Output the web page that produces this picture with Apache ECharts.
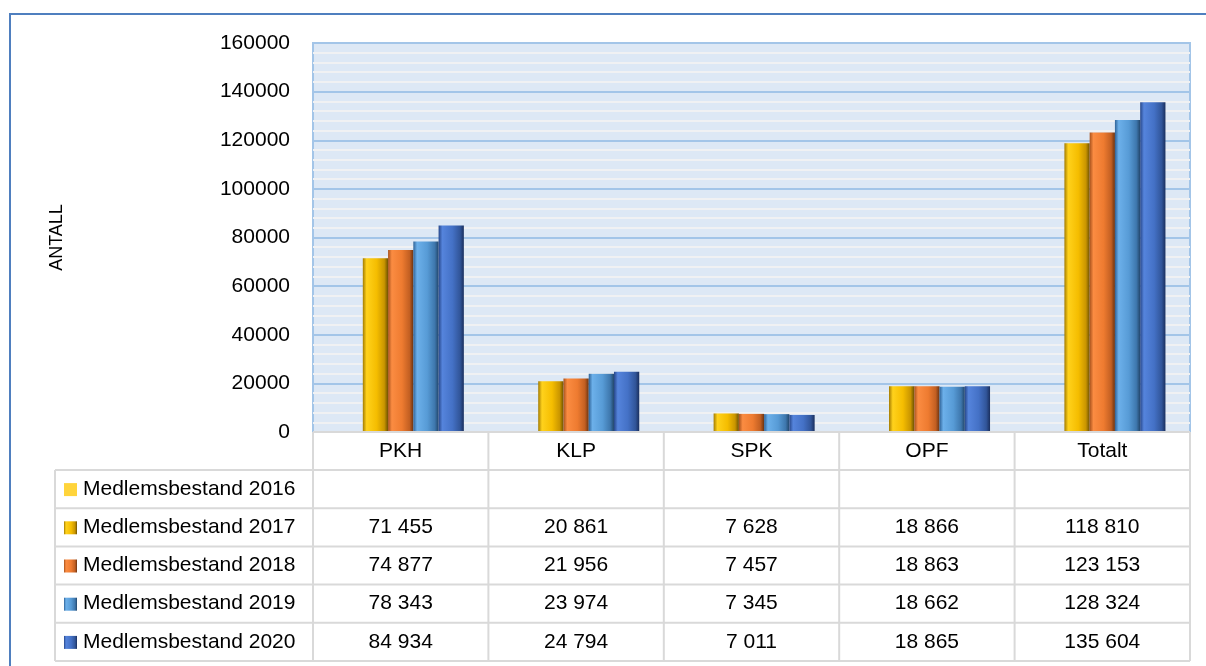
<!DOCTYPE html>
<html>
<head>
<meta charset="utf-8">
<script src="https://cdn.jsdelivr.net/npm/echarts@6/dist/echarts.min.js"></script>
<style>
    html, body { margin: 0; padding: 0; background: #fff; }
    #chart { width: 1206px; height: 666px; }
</style>
</head>
<body>
<div id="chart"></div>
<script>
    // data
    var categories = ['PKH', 'KLP', 'SPK', 'OPF', 'Totalt'];
    var rowNames = ['Medlemsbestand 2016', 'Medlemsbestand 2017', 'Medlemsbestand 2018', 'Medlemsbestand 2019', 'Medlemsbestand 2020'];
    var data2016 = [null, null, null, null, null];
    var data2017 = [71455, 20861, 7628, 18866, 118810];
    var data2018 = [74877, 21956, 7457, 18863, 123153];
    var data2019 = [78343, 23974, 7345, 18662, 128324];
    var data2020 = [84934, 24794, 7011, 18865, 135604];
    var rows = [data2016, data2017, data2018, data2019, data2020];

    // layout of plot + data table
    var L = 313, T = 43, R = 1190, B = 432;
    var tableLeft = 55, headerBottom = 470, rowH = 38.2;
    var FONT = '"Liberation Sans", Arial, sans-serif';

    // bevel look: dark edges, bright left part
    function bevel(c) {
        return new echarts.graphic.LinearGradient(0, 0, 1, 0, [
            {offset: 0, color: c[0]},
            {offset: 0.15, color: c[1]},
            {offset: 0.55, color: c[2]},
            {offset: 0.85, color: c[3]},
            {offset: 1, color: c[4]}
        ]);
    }
    var palette = [
        ['#ffd43b', '#ffd43b', '#ffd43b', '#ffd43b', '#ffd43b'],
        ['#a37b00', '#ffd21c', '#f5bd00', '#c99500', '#6e5200'],
        ['#a8521c', '#fb8c42', '#ee7b30', '#c25f22', '#6b3310'],
        ['#2f6398', '#6cb0ea', '#579bd6', '#3e77ad', '#22466b'],
        ['#27478a', '#5584dc', '#4471c6', '#315599', '#1a2f5e']
    ];

    function fmt(v) {
        if (v == null) return '';
        return String(v).replace(/\B(?=(\d{3})+(?!\d))/g, ' ');
    }

    // 2016 is empty but still keeps its slot in each group
    var series = [];
    for (var s = 0; s < rows.length; s++) {
        series.push({
            name: rowNames[s],
            type: 'bar',
            data: rows[s],
            barGap: '0%',
            barCategoryGap: '28%',
            itemStyle: {color: bevel(palette[s])}
        });
    }

    // data table under the chart
    var graphic = [];
    var lineStyle = {stroke: '#d9d9d9', lineWidth: 2};
    function hline(x1, x2, y) {
        graphic.push({type: 'line', shape: {x1: x1, y1: y, x2: x2, y2: y}, style: lineStyle, z: 10});
    }
    function vline(x, y1, y2) {
        graphic.push({type: 'line', shape: {x1: x, y1: y1, x2: x, y2: y2}, style: lineStyle, z: 10});
    }
    var colW = (R - L) / categories.length;
    var tableBottom = headerBottom + rowH * rows.length;
    hline(L, R, B);
    for (var r = 0; r <= rows.length; r++) {
        hline(tableLeft, R, headerBottom + r * rowH);
    }
    vline(tableLeft, headerBottom, tableBottom);
    for (var c = 0; c <= categories.length; c++) {
        vline(L + c * colW, B, tableBottom);
    }
    for (var r = 0; r < rows.length; r++) {
        var cy = headerBottom + r * rowH + rowH / 2;
        graphic.push({
            type: 'rect',
            shape: {x: 64, y: cy - 6, width: 13, height: 13},
            style: {fill: bevel(palette[r])},
            z: 10
        });
        graphic.push({
            type: 'text', x: 83, y: cy,
            style: {text: rowNames[r], font: '21px ' + FONT, fill: '#000', verticalAlign: 'middle', align: 'left'},
            z: 10
        });
        for (var c = 0; c < categories.length; c++) {
            graphic.push({
                type: 'text', x: L + c * colW + colW / 2, y: cy,
                style: {text: fmt(rows[r][c]), font: '21px ' + FONT, fill: '#000', verticalAlign: 'middle', align: 'center'},
                z: 10
            });
        }
    }
    // outer frame
    graphic.push({
        type: 'rect',
        shape: {x: 10, y: 14, width: 1200, height: 660},
        style: {fill: 'none', stroke: '#4f7fbf', lineWidth: 2},
        z: 20
    });

    var myChart = echarts.init(document.getElementById('chart'));
    myChart.setOption({
        backgroundColor: '#fff',
        animation: false,
        grid: {
            left: L, top: T, width: R - L, height: B - T,
            show: true,
            backgroundColor: '#dde8f5',
            borderColor: '#a3c5e8',
            borderWidth: 2
        },
        xAxis: {
            type: 'category',
            data: categories,
            axisLine: {show: false},
            axisTick: {show: false},
            axisLabel: {color: '#000', fontSize: 21, fontFamily: FONT, margin: 9}
        },
        yAxis: {
            type: 'value',
            min: 0, max: 160000, interval: 20000,
            name: 'ANTALL',
            nameLocation: 'middle',
            nameGap: 247,
            nameTextStyle: {color: '#000', fontSize: 18, fontFamily: FONT},
            axisLine: {show: false},
            axisTick: {show: false},
            axisLabel: {
                color: '#000', fontSize: 21, fontFamily: FONT, margin: 23,
                formatter: function (v) { return String(v); }
            },
            splitLine: {lineStyle: {color: '#a3c5e8', width: 2}},
            minorTick: {show: false, splitNumber: 5},
            minorSplitLine: {show: true, lineStyle: {color: '#f0f1f3', width: 2}}
        },
        series: series,
        graphic: graphic
    });
</script>
</body>
</html>
